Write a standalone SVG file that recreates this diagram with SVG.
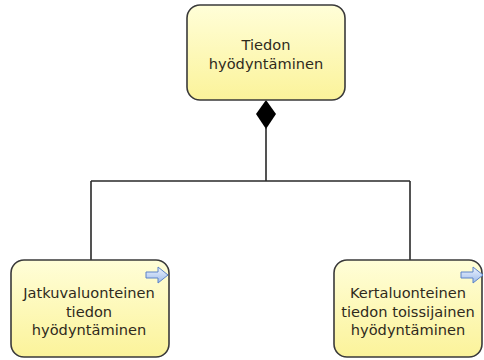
<svg xmlns="http://www.w3.org/2000/svg" width="484" height="360" viewBox="0 0 484 360">
  <style>
    .box { fill: url(#yellow); stroke: #3a3a3a; stroke-width: 1.6; }
    .lbl { font-family: "DejaVu Sans", Verdana, sans-serif; font-size: 14.6px; fill: #2f2a1c; text-anchor: middle; }
    .wire { fill: none; stroke: #2a2a2a; stroke-width: 1.6; }
  </style>
  <defs>
    <linearGradient id="yellow" x1="0" y1="0" x2="0" y2="1">
      <stop offset="0" stop-color="#fffed8"/>
      <stop offset="1" stop-color="#fbf39a"/>
    </linearGradient>
    <linearGradient id="blue" x1="0" y1="0" x2="0" y2="1">
      <stop offset="0" stop-color="#eef4ff"/>
      <stop offset="1" stop-color="#9dbbea"/>
    </linearGradient>
    <!-- "go to" marker drawn in the top-right corner of linked steps -->
    <path id="goto" d="M0,5 H12 V0 L22,8 L12,16 V11 H0 Z" fill="url(#blue)" stroke="#5b82c8" stroke-width="1"/>
  </defs>

  <g id="connectors">
    <path class="wire" d="M266,128 V181 M91,181 H410 M91,181 V260 M410,181 V260"/>
    <path d="M266,100 L276,114 L266,129 L256,114 Z" fill="#000"/>
  </g>

  <g id="tiedon-hyodyntaminen">
    <rect class="box" x="187" y="5" width="158" height="95" rx="13"/>
    <text class="lbl" x="266" y="50">Tiedon</text>
    <text class="lbl" x="266" y="69">hyödyntäminen</text>
  </g>

  <g id="jatkuvaluonteinen">
    <rect class="box" x="11" y="260" width="158" height="97" rx="13"/>
    <text class="lbl" x="89" y="298">Jatkuvaluonteinen</text>
    <text class="lbl" x="89" y="317">tiedon</text>
    <text class="lbl" x="89" y="335">hyödyntäminen</text>
    <use href="#goto" x="146" y="267"/>
  </g>

  <g id="kertaluonteinen">
    <rect class="box" x="334" y="260" width="148" height="97" rx="13"/>
    <text class="lbl" x="408" y="298">Kertaluonteinen</text>
    <text class="lbl" x="408" y="317">tiedon toissijainen</text>
    <text class="lbl" x="408" y="335">hyödyntäminen</text>
    <use href="#goto" x="461" y="267"/>
  </g>
</svg>
